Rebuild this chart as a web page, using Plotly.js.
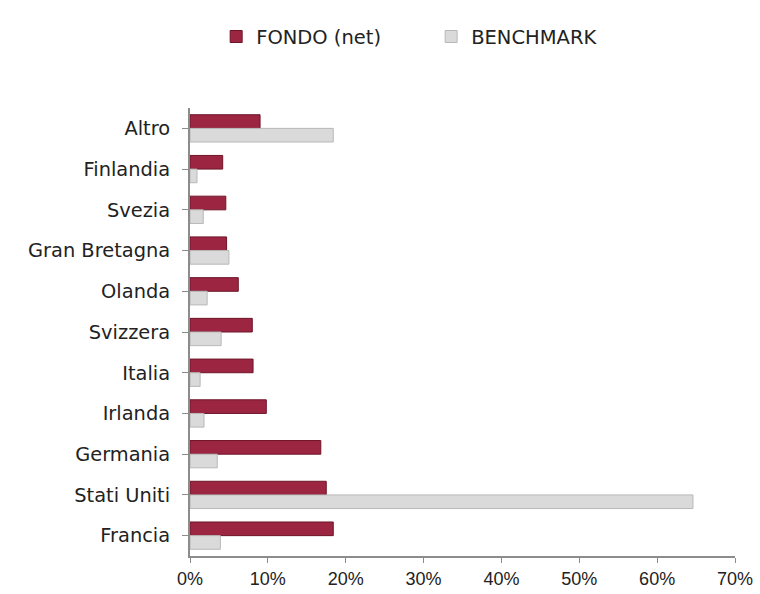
<!DOCTYPE html>
<html>
<head>
<meta charset="utf-8">
<script src="https://cdn.plot.ly/plotly-3.0.1.min.js"></script>
<style>html,body{margin:0;padding:0;background:#fff}#chart{width:760px;height:594px}</style>
</head>
<body>
<div id="chart"></div>
<script>
const categories = ["Altro","Finlandia","Svezia","Gran Bretagna","Olanda","Svizzera","Italia","Irlanda","Germania","Stati Uniti","Francia"];
const fondo = [9.0, 4.2, 4.6, 4.7, 6.2, 8.0, 8.1, 9.8, 16.8, 17.5, 18.4];
const benchmark = [18.4, 0.9, 1.7, 5.0, 2.2, 4.0, 1.3, 1.8, 3.5, 64.6, 3.9];
const tickVals = [0,10,20,30,40,50,60,70];
const tickText = ["0%","10%","20%","30%","40%","50%","60%","70%"];

const traces = [
  {type:"bar", orientation:"h", name:"FONDO (net)", y:categories, x:fondo,
   marker:{color:"#9c2642", line:{color:"#6e1528", width:1}}},
  {type:"bar", orientation:"h", name:"BENCHMARK", y:categories, x:benchmark,
   marker:{color:"#dadada", line:{color:"#b8b8b8", width:1}}}
];

const layout = {
  width:760, height:594,
  margin:{l:190, r:25, t:108, b:38},
  paper_bgcolor:"#fff", plot_bgcolor:"#fff",
  font:{family:"DejaVu Sans, sans-serif", size:18, color:"#222"},
  barmode:"group", bargap:0.33, bargroupgap:0,
  showlegend:true,
  legend:{orientation:"h", x:0.048, xanchor:"left", yref:"container", y:0.938, yanchor:"middle",
          entrywidth:170, entrywidthmode:"pixels", font:{family:"DejaVu Sans, sans-serif", size:19.5, color:"#222"}, itemwidth:30},
  xaxis:{range:[0,70], tickvals:tickVals, ticktext:tickText, showgrid:false, zeroline:false,
         showline:true, linecolor:"#8c8c8c", linewidth:2, ticks:"outside", ticklen:5,
         tickcolor:"#8c8c8c", tickwidth:1, tickfont:{family:"Liberation Sans, Arial, sans-serif", size:18, color:"#222"}},
  yaxis:{autorange:"reversed", showgrid:false, zeroline:false, showline:true, linecolor:"#8c8c8c",
         linewidth:2, ticks:"outside", ticklen:6, tickcolor:"#8c8c8c", tickwidth:1,
         tickfont:{family:"DejaVu Sans, sans-serif", size:19.4, color:"#222"}, ticklabelstandoff:8}
};

Plotly.newPlot("chart", traces, layout, {displayModeBar:false, staticPlot:true});
</script>
</body>
</html>
